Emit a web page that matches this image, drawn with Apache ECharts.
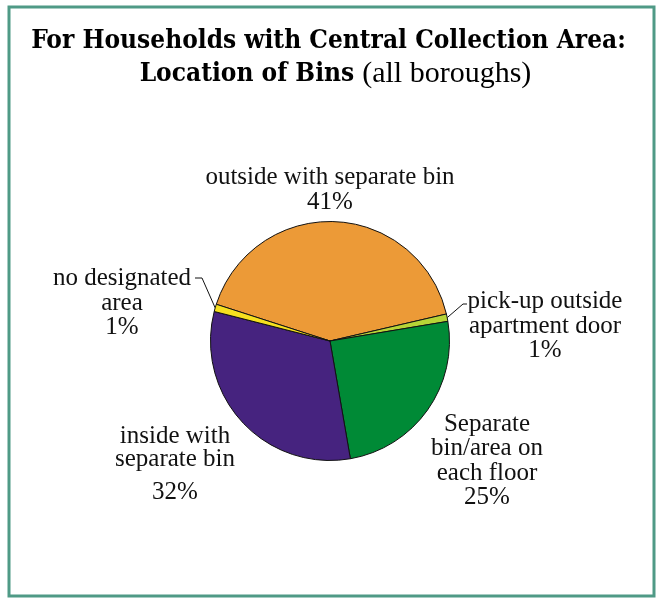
<!DOCTYPE html>
<html>
<head>
<meta charset="utf-8">
<script src="https://cdn.jsdelivr.net/npm/echarts@6/dist/echarts.min.js"></script>
<style>
html,body{margin:0;padding:0;background:#fff;}
#chart{width:657px;height:598px;}
</style>
</head>
<body>
<div id="chart"></div>
<script>
// Data
var categories = [
  'outside with separate bin',
  'pick-up outside\napartment door',
  'Separate\nbin/area on\neach floor',
  'inside with\nseparate bin',
  'no designated\narea'
];
var values = [41.4, 1.0, 24.9, 31.7, 1.0];
var colors = ['#EC9A37', '#B6D437', '#008A36', '#46237F', '#F6E01F'];

// label centers (layout only)
var labelPos = [
  [330, 190],
  [545, 326],
  [487, 461],
  [175, 465],
  [122, 303]
];
// label line elbow/end points (layout only); null = no line
var linePath = [
  null,
  [[463, 304], [467, 304]],
  null,
  null,
  [[202, 278], [195, 278]]
];

var chart = echarts.init(document.getElementById('chart'));
var data = categories.map(function (c, i) {
  return {
    name: c,
    value: values[i],
    itemStyle: { color: colors[i] },
    labelLine: { show: !!linePath[i] }
  };
});

chart.setOption({
  animation: false,
  graphic: [{
    type: 'rect',
    shape: { x: 9, y: 7, width: 645, height: 589 },
    style: { fill: 'none', stroke: '#4F9A86', lineWidth: 3 },
    silent: true
  }],
  title: {
    left: 'center',
    top: 20,
    text: '{b|For Households with Central Collection Area:}\n{b2|Location of Bins} {n|(all boroughs)}',
    textStyle: {
      align: 'center',
      rich: {
        b: { fontFamily: '"DejaVu Serif Condensed", "DejaVu Serif"', fontWeight: 'bold', fontSize: 26, color: '#000', lineHeight: 33 },
        b2: { fontFamily: '"DejaVu Serif Condensed", "DejaVu Serif"', fontWeight: 'bold', fontSize: 26, color: '#000', lineHeight: 33, padding: [0, 0, 0, 14] },
        n: { fontFamily: 'Liberation Serif', fontWeight: 'normal', fontSize: 30, color: '#000', lineHeight: 33, padding: [0, 0, 0, 3] }
      }
    }
  },
  series: [{
    type: 'pie',
    center: [330, 341],
    radius: 119.5,
    startAngle: 162.1,
    clockwise: true,
    data: data,
    itemStyle: { borderColor: '#111', borderWidth: 1 },
    label: {
      show: true,
      position: 'outside',
      fontFamily: 'Liberation Serif',
      fontSize: 25,
      color: '#111',
      lineHeight: 24.5,
      align: 'center',
      formatter: function (p) {
        var pct = Math.round(p.percent) + '%';
        if (p.dataIndex === 3) return '{t|' + p.name.split('\n').join('}\n{t|') + '}\n{p|' + pct + '}';
        return p.name + '\n' + pct;
      },
      rich: {
        t: { fontFamily: 'Liberation Serif', fontSize: 25, color: '#111', lineHeight: 23 },
        p: { fontFamily: 'Liberation Serif', fontSize: 25, color: '#111', lineHeight: 34, verticalAlign: 'bottom' }
      }
    },
    labelLine: {
      show: true,
      length: 8,
      length2: 6,
      lineStyle: { color: '#111', width: 1 }
    },
    labelLayout: function (params) {
      var i = params.dataIndex;
      var p = labelPos[i];
      var res = { x: p[0], y: p[1], align: 'center', verticalAlign: 'middle' };
      if (linePath[i] && params.labelLinePoints) {
        res.labelLinePoints = [params.labelLinePoints[0]].concat(linePath[i]);
      }
      return res;
    }
  }]
});
</script>
</body>
</html>
